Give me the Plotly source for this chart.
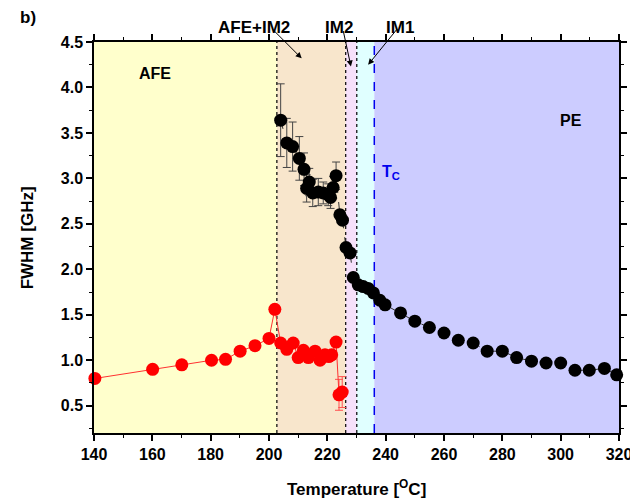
import plotly.graph_objects as go

# ---------------- data ----------------
black_T = [204.0, 206.1, 208.1, 210.4, 212.0, 212.9, 213.8, 215.0, 216.9, 218.6,
           220.3, 221.1, 222.0, 223.0, 224.3, 225.2, 226.4, 227.8, 228.9, 230.6,
           232.3, 234.0, 235.8, 238.0, 239.8, 245.1, 250.0, 255.0, 260.0, 264.9,
           270.0, 274.8, 280.0, 284.9, 290.0, 295.0, 300.0, 304.9, 309.8, 315.0, 319.2]
black_fwhm = [3.64, 3.39, 3.35, 3.22, 3.10, 2.89, 2.96, 2.84, 2.85, 2.84,
              2.82, 2.79, 2.90, 3.03, 2.60, 2.54, 2.24, 2.18, 1.91, 1.83,
              1.81, 1.79, 1.74, 1.66, 1.61, 1.52, 1.43, 1.36, 1.30, 1.22,
              1.19, 1.10, 1.10, 1.03, 0.99, 0.97, 0.97, 0.89, 0.89, 0.91, 0.84]
black_err = [0.40, 0.27, 0.27, 0.24, 0.18, 0.15, 0.15, 0.15, 0.15, 0.12,
             0.12, 0.12, 0.12, 0.15, 0.05, 0.05, 0.03, 0.03, 0.02, 0.02,
             0.02, 0.02, 0.02, 0.02, 0.0, 0.0, 0.0, 0.0, 0.0, 0.0,
             0.0, 0.0, 0.0, 0.0, 0.0, 0.0, 0.0, 0.0, 0.0, 0.0, 0.0]

red_T = [140.3, 160.1, 170.1, 180.3, 185.1, 190.1, 195.2, 200.0, 202.0, 204.0,
         206.1, 208.3, 210.0, 211.8, 213.5, 215.8, 217.5, 219.2, 220.5, 221.5,
         223.0, 224.0, 225.1]
red_fwhm = [0.80, 0.90, 0.95, 1.00, 1.01, 1.10, 1.16, 1.24, 1.56, 1.19,
            1.12, 1.19, 1.03, 1.11, 1.03, 1.10, 1.00, 1.06, 1.04, 1.06,
            1.20, 0.62, 0.65]
red_err = [0.0, 0.0, 0.0, 0.0, 0.0, 0.0, 0.0, 0.0, 0.0, 0.03,
           0.03, 0.03, 0.04, 0.04, 0.04, 0.04, 0.04, 0.04, 0.04, 0.04,
           0.05, 0.17, 0.17]

# phase boundaries (temperature, degC)
phase_names = ["AFE", "AFE+IM2", "IM2", "IM1", "PE"]
phase_bounds = [140, 202.7, 226.3, 230.1, 236.1, 320]
phase_colors = ["#FFFFCC", "#F8E6CC", "#F6E0FA", "#E0FFFF", "#CCCCFF"]
Tc = 236.1

x_ticks = [140, 160, 180, 200, 220, 240, 260, 280, 300, 320]
y_ticks = [0.5, 1.0, 1.5, 2.0, 2.5, 3.0, 3.5, 4.0, 4.5]

FONT = "Liberation Sans, Arial, sans-serif"

fig = go.Figure()

# phase background regions
shapes = []
for i in range(len(phase_names)):
    shapes.append(dict(type="rect", xref="x", yref="paper",
                       x0=phase_bounds[i], x1=phase_bounds[i + 1], y0=0, y1=1,
                       fillcolor=phase_colors[i], line=dict(width=0), layer="below"))
for b in phase_bounds[1:4]:
    shapes.append(dict(type="line", xref="x", yref="paper", x0=b, x1=b, y0=0, y1=1,
                       line=dict(color="black", width=1.2, dash="dot"), layer="below"))
shapes.append(dict(type="line", xref="x", yref="paper", x0=Tc, x1=Tc, y0=0, y1=1,
                   line=dict(color="#0000EE", width=1.5, dash="dash"), layer="below"))

fig.add_trace(go.Scatter(
    x=red_T, y=red_fwhm, mode="lines+markers",
    line=dict(color="#FF3030", width=1),
    marker=dict(color="#FF0000", size=13),
    error_y=dict(type="data", array=red_err, color="#FF5050", thickness=1, width=4),
    showlegend=False, cliponaxis=False))

fig.add_trace(go.Scatter(
    x=black_T, y=black_fwhm, mode="lines+markers",
    line=dict(color="#333333", width=1, dash="dash"),
    marker=dict(color="black", size=13),
    error_y=dict(type="data", array=black_err, color="#444444", thickness=1, width=4),
    showlegend=False, cliponaxis=False))

def txt(size=16, color="black"):
    return dict(size=size, color=color, family=FONT)

annotations = [
    dict(text="<b>b)</b>", xref="paper", yref="paper", x=-0.126, y=1.063,
         xanchor="center", yanchor="middle", showarrow=False, font=txt(17)),
    dict(text="<b>AFE</b>", xref="x", yref="y", x=161, y=4.15, showarrow=False, font=txt(16)),
    dict(text="<b>PE</b>", xref="x", yref="y", x=303.5, y=3.64, showarrow=False, font=txt(16)),
    dict(text="<b>T<sub>C</sub></b>", xref="x", yref="y", x=241.8, y=3.07, showarrow=False,
         font=txt(16, "#0000EE")),
    # labels above the plot
    dict(text="<b>AFE+IM2</b>", xref="x", yref="paper", x=194.9, y=1.066, showarrow=False,
         font=txt(17)),
    dict(text="<b>IM2</b>", xref="x", yref="paper", x=224.0, y=1.066, showarrow=False,
         font=txt(17)),
    dict(text="<b>IM1</b>", xref="x", yref="paper", x=244.9, y=1.066, showarrow=False,
         font=txt(17)),
    # axis titles
    dict(text="<b>Temperature [<sup>O</sup>C]</b>", xref="paper", yref="paper",
         x=0.5, y=-0.14, xanchor="center", yanchor="middle", showarrow=False,
         font=txt(17)),
    dict(text="<b>FWHM [GHz]</b>", xref="paper", yref="paper", textangle=-90,
         x=-0.126, y=0.5, xanchor="center", yanchor="middle", showarrow=False,
         font=txt(17)),
    # arrows
    dict(text="", xref="x", yref="y", x=211.2, y=4.32, ax=-30, ay=-30,
         showarrow=True, arrowhead=2, arrowsize=1.2, arrowwidth=1, arrowcolor="black"),
    dict(text="", xref="x", yref="y", x=228.1, y=4.23, ax=-8, ay=-37,
         showarrow=True, arrowhead=2, arrowsize=1.2, arrowwidth=1, arrowcolor="black"),
    dict(text="", xref="x", yref="y", x=234.0, y=4.25, ax=30, ay=-37,
         showarrow=True, arrowhead=2, arrowsize=1.2, arrowwidth=1, arrowcolor="black"),
]

axis_common = dict(showline=True, linecolor="black", linewidth=1.5, mirror="allticks",
                   ticks="outside", ticklen=6, tickwidth=1.5, tickcolor="black",
                   showgrid=False, zeroline=False, automargin=False,
                   tickfont=dict(size=16, color="black", family=FONT))

fig.update_xaxes(range=[140, 320], tickvals=x_ticks,
                 ticktext=[f"<b>{v}</b>" for v in x_ticks],
                 minor=dict(ticks="outside", dtick=10, ticklen=3, tickwidth=1.2, tickcolor="black"),
                 **axis_common)
fig.update_yaxes(range=[0.2, 4.5], tickvals=y_ticks,
                 ticktext=[f"<b>{v:.1f}</b>" for v in y_ticks],
                 minor=dict(ticks="outside", dtick=0.25, tick0=0, ticklen=3, tickwidth=1.2, tickcolor="black"),
                 **axis_common)

# the page body adds an 8px offset; size the figure so the plot lands where the reference has it
fig.update_layout(width=630, height=494,
                  margin=dict(l=86, r=19, t=34, b=69),
                  plot_bgcolor="white", paper_bgcolor="white",
                  shapes=shapes, annotations=annotations,
                  font=dict(family=FONT, color="black"))

fig.write_html("out.html", config={"displayModeBar": False})
